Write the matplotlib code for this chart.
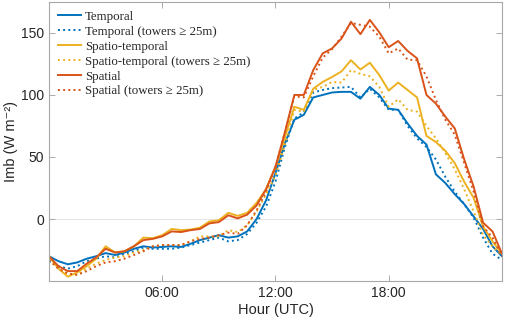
import matplotlib
matplotlib.use("Agg")
import matplotlib.pyplot as plt
import numpy as np

hours = np.arange(0, 24.01, 0.5)

temporal = [-30, -34, -36.5, -35, -32, -30, -27.5, -29, -27, -24, -22, -23, -22.5, -22, -22.5, -20,
            -17, -15, -13, -15, -14, -10, 0, 15, 37, 61, 80, 84, 98, 100, 102, 102.5,
            102.5, 97, 106.5, 100, 89, 88, 77, 67, 60, 36, 29, 20, 12, 2, -8, -22, -30]
temporal_t = [-34, -38, -40, -38, -34, -32, -30, -31, -28, -26, -23, -24, -24, -24, -23, -21,
              -19, -17, -15, -18, -17, -12, -3, 10, 30, 58, 81, 86, 102, 104, 105.5, 106,
              106.5, 98, 105, 98, 88, 88, 75, 65, 58, 48, 34, 22, 12, 1, -15, -28, -33]
spatiotemporal = [-30, -40, -46.5, -43, -38, -32, -22, -27, -26, -22, -15, -15.5, -13, -8, -9, -8.5,
                  -7, -2, -1, 5, 2.5, 5, 13, 24, 42, 66, 90.5, 88, 105, 110.5, 114.5, 119,
                  128, 120.5, 126, 116, 103.5, 110, 104, 98, 67, 62, 55, 45, 30, 17, -6, -18, -28]
spatiotemporal_t = [-33, -40, -44, -45, -40, -36, -33, -31, -30, -27, -25, -22, -21, -21, -21, -18,
                    -14, -14, -14, -9, -10.5, -5, 6, 20, 35, 60, 88, 86.5, 104, 106.5, 110.5, 110,
                    120, 117, 115, 106.5, 90.5, 96.5, 88, 86.5, 75, 65, 53, 40, 24, 6, -13, -22, -29]
spatial = [-30, -38, -42, -42, -36, -31, -24, -27, -26, -22, -17, -16, -14, -10, -10.5, -9,
           -8, -3.5, -2.5, 3, 0.5, 3.5, 11, 24, 42, 70, 100, 100, 120, 133.5, 137.5, 145.5,
           159, 149, 160.5, 150.5, 138.5, 143.5, 135.5, 129.5, 100, 93, 82.5, 73, 48, 26, -3, -10, -28]
spatial_t = [-33, -40, -44, -45, -42, -38, -35, -34, -32, -29, -26, -22, -21, -21, -21, -18,
             -16, -15, -13, -11, -12, -5, 7, 22, 42, 70, 99, 98, 115, 130, 137, 147,
             158, 156.5, 155, 147, 133.5, 137.5, 128.5, 128, 115, 96, 80, 68, 45, 22, -6, -15, -30]

labels = ['Temporal',
          'Temporal (towers ≥ 25m)',
          'Spatio-temporal',
          'Spatio-temporal (towers ≥ 25m)',
          'Spatial',
          'Spatial (towers ≥ 25m)']

xticks = [6, 12, 18]
xticklabels = ['06:00', '12:00', '18:00']
yticks = [0, 50, 100, 150]

plt.rcParams['font.family'] = ['Liberation Sans', 'DejaVu Sans']

blue = '#0072BD'
yellow = '#EDB120'
red = '#D95319'

fig = plt.figure(figsize=(5.05, 3.19), dpi=100)
ax = fig.add_axes([0.097, 0.119, 0.897, 0.875])

ax.axhline(0, color='#e6e6e6', lw=0.8, zorder=0)

series = [temporal, temporal_t, spatiotemporal, spatiotemporal_t, spatial, spatial_t]
colors = [blue, blue, yellow, yellow, red, red]
styles = ['-', ':', '-', ':', '-', ':']
for s, c, ls, lab in zip(series, colors, styles, labels):
    ax.plot(hours, s, color=c, ls=ls, lw=1.4, label=lab)

ax.set_xlim(0, 24)
ax.set_ylim(-50, 175)
ax.set_xticks(xticks)
ax.set_xticklabels(xticklabels)
ax.set_yticks(yticks)
ax.tick_params(direction='in', length=4, width=0.6, colors='#a0a0a0', labelcolor='#262626',
               labelsize=10, top=True, right=True)
for sp in ax.spines.values():
    sp.set_color('#a8a8a8')
    sp.set_linewidth(0.8)

ax.set_xlabel('Hour (UTC)', fontsize=10.5, color='#262626', labelpad=2)
ax.set_ylabel('Imb (W m⁻²)', fontsize=10.5, color='#262626', labelpad=2)

leg = ax.legend(loc='upper left', frameon=False,
                prop={'family': ['Liberation Serif', 'DejaVu Serif'], 'size': 9.3},
                handlelength=1.8, handletextpad=0.3, labelspacing=0.22, borderaxespad=0.3,
                bbox_to_anchor=(0.0, 1.0))
for t in leg.get_texts():
    t.set_color('#262626')

fig.savefig('out.png', dpi=100)
